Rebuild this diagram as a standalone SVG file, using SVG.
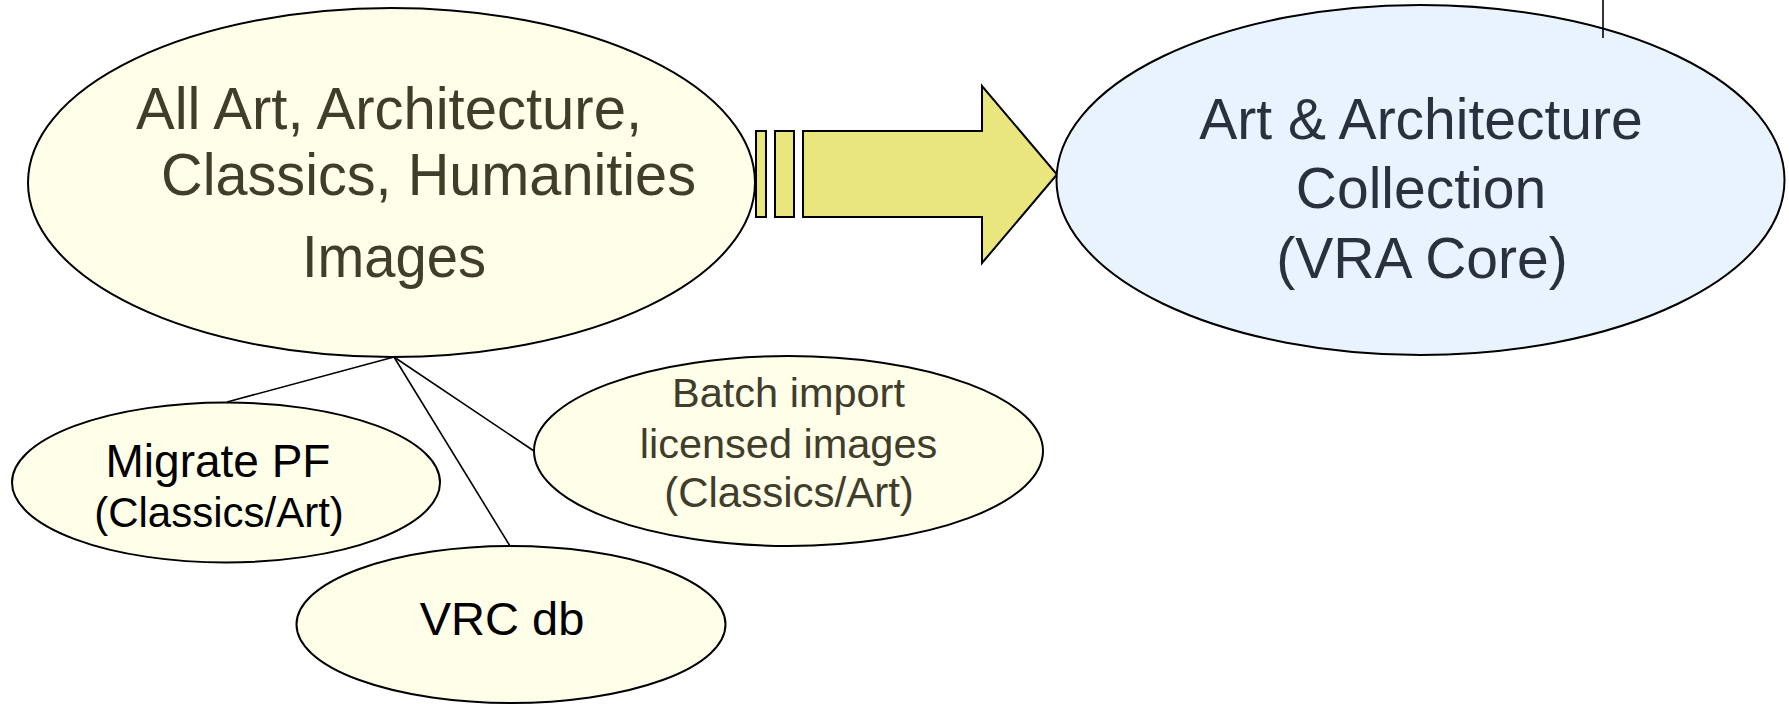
<svg xmlns="http://www.w3.org/2000/svg" width="1789" height="704" viewBox="0 0 1789 704">
<style>
.cream{fill:#fefee9;stroke:#000;stroke-width:2}
.blue{fill:#e8f3fd;stroke:#000;stroke-width:2}
.arrow{fill:#e8e67c;stroke:#000;stroke-width:2}
.conn{stroke:#000;stroke-width:1.6;fill:none}
text{font-family:"Liberation Sans",Arial,sans-serif}
.olive{fill:#403d2b}
.slate{fill:#29323c}
.blk{fill:#000}
</style>
<rect width="1789" height="704" fill="#fff"/>
<g id="connectors">
<line class="conn" x1="394" y1="357" x2="227" y2="402"/>
<line class="conn" x1="394" y1="357" x2="510" y2="546"/>
<line class="conn" x1="394" y1="357" x2="534" y2="451"/>
</g>
<g id="arrow">
<rect class="arrow" x="756" y="131" width="10" height="86"/>
<rect class="arrow" x="775" y="131" width="19" height="86"/>
<path class="arrow" d="M803,131 H982 V86 L1057,174.5 L982,263 V217 H803 Z"/>
</g>
<g id="all-images">
<ellipse class="cream" cx="391.5" cy="182.5" rx="363.5" ry="174.5"/>
<text class="olive" x="136" y="129" font-size="60" textLength="506" lengthAdjust="spacingAndGlyphs">All Art, Architecture,</text>
<text class="olive" x="161" y="195" font-size="60" textLength="535" lengthAdjust="spacingAndGlyphs">Classics, Humanities</text>
<text class="olive" x="302" y="277" font-size="60" textLength="184" lengthAdjust="spacingAndGlyphs">Images</text>
</g>
<g id="aa-collection">
<ellipse class="blue" cx="1420.5" cy="180" rx="364" ry="175"/>
<text class="slate" x="1421" y="139" font-size="57" text-anchor="middle">Art &amp; Architecture</text>
<text class="slate" x="1421" y="208" font-size="57" text-anchor="middle">Collection</text>
<text class="slate" x="1422" y="278" font-size="57" text-anchor="middle">(VRA Core)</text>
</g>
<g id="marker-line">
<line class="conn" x1="1603" y1="0" x2="1603" y2="38"/>
</g>
<g id="migrate-pf">
<ellipse class="cream" cx="226" cy="482.5" rx="214" ry="80"/>
<text class="blk" x="218" y="477" font-size="46" text-anchor="middle">Migrate PF</text>
<text class="blk" x="219" y="527" font-size="42" text-anchor="middle">(Classics/Art)</text>
</g>
<g id="vrc-db">
<ellipse class="cream" cx="511" cy="624.5" rx="214.5" ry="78.5"/>
<text class="blk" x="502" y="635" font-size="47" text-anchor="middle">VRC db</text>
</g>
<g id="batch-import">
<ellipse class="cream" cx="788.5" cy="451" rx="254.5" ry="95"/>
<text class="olive" x="788.5" y="406.5" font-size="41.5" text-anchor="middle">Batch import</text>
<text class="olive" x="788.5" y="458" font-size="41.5" text-anchor="middle">licensed images</text>
<text class="olive" x="789" y="506.5" font-size="42" text-anchor="middle">(Classics/Art)</text>
</g>
</svg>
